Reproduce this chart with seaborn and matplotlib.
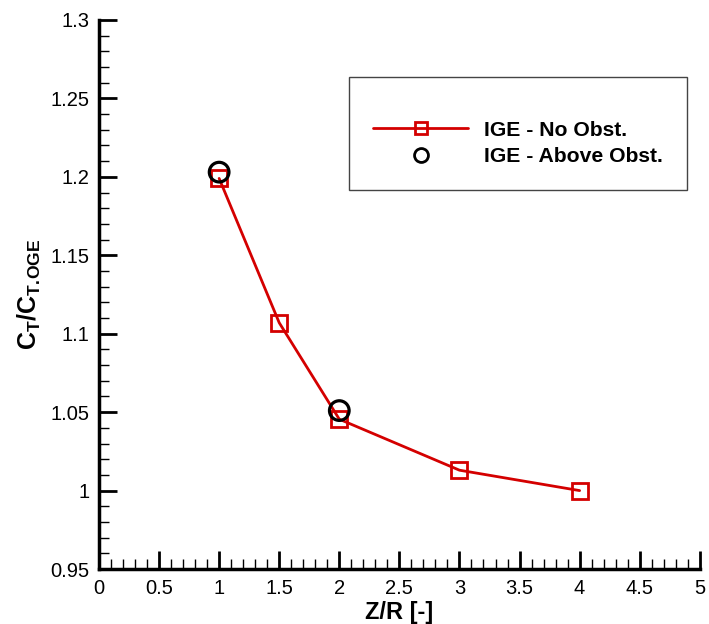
import numpy as np
import pandas as pd
import matplotlib
matplotlib.use('Agg')
import matplotlib.pyplot as plt
import seaborn as sns
from matplotlib.lines import Line2D
from matplotlib.ticker import MultipleLocator

# dados
zr_no_obst = [1.0, 1.5, 2.0, 3.0, 4.0]
ct_no_obst = [1.199, 1.107, 1.0455, 1.013, 1.0]
zr_above = [1.0, 2.0]
ct_above = [1.203, 1.051]
labels = ['IGE - No Obst.', 'IGE - Above Obst.']

df_no = pd.DataFrame({'zr': zr_no_obst, 'ct': ct_no_obst})
df_ab = pd.DataFrame({'zr': zr_above, 'ct': ct_above})

sns.set_style('ticks', {'axes.edgecolor': 'black', 'text.color': 'black',
                        'xtick.color': 'black', 'ytick.color': 'black',
                        'axes.labelcolor': 'black'})
plt.rcParams['font.family'] = ['Liberation Sans', 'DejaVu Sans']
plt.rcParams['mathtext.fontset'] = 'custom'
plt.rcParams['mathtext.rm'] = 'Liberation Sans'
plt.rcParams['mathtext.bf'] = 'Liberation Sans:bold'

red = '#d40000'

fig = plt.figure(figsize=(7.09, 6.24), dpi=100)
ax = fig.add_axes([0.1396, 0.0881, 0.8474, 0.8799])

sns.lineplot(data=df_no, x='zr', y='ct', ax=ax, color=red, linewidth=2.0,
             marker='s', markersize=11, markerfacecolor='none',
             markeredgecolor=red, markeredgewidth=2.0)
sns.scatterplot(data=df_ab, x='zr', y='ct', ax=ax, marker='o', s=200,
                facecolor='none', edgecolor='black', linewidth=2.3, zorder=5)

ax.set_xlim(0, 5)
ax.set_ylim(0.95, 1.3)
ax.xaxis.set_minor_locator(MultipleLocator(0.1))
ax.yaxis.set_minor_locator(MultipleLocator(0.01))
ax.set_xticks(np.arange(0, 5.01, 0.5))
ax.set_xticklabels(['0', '0.5', '1', '1.5', '2', '2.5', '3', '3.5', '4', '4.5', '5'])
ax.set_yticks(np.arange(0.95, 1.301, 0.05))
ax.set_yticklabels(['0.95', '1', '1.05', '1.1', '1.15', '1.2', '1.25', '1.3'])

ax.tick_params(which='major', direction='in', length=13, width=2, labelsize=14.5,
               pad=7, colors='black')
ax.tick_params(which='minor', direction='in', length=7, width=1, colors='black')
sns.despine(ax=ax)
for s in ['left', 'bottom']:
    ax.spines[s].set_linewidth(2.5)
    ax.spines[s].set_color('black')

ax.set_xlabel('Z/R [-]', fontsize=17, fontweight='bold', labelpad=2)
# \! tira o espaço que o mathtext mete depois do ponto
ax.set_ylabel(r'C$_{\mathbf{T}}$/C$_{\mathbf{T.\!OGE}}$', fontsize=18,
              fontweight='bold', labelpad=5)

handles = [
    Line2D([], [], color=red, linewidth=2.0, marker='s', markersize=9,
           markerfacecolor='none', markeredgecolor=red, markeredgewidth=2.0),
    Line2D([], [], linestyle='none', marker='o', markersize=10,
           markerfacecolor='none', markeredgecolor='black', markeredgewidth=2.0),
]
# título vazio só para dar o espaço extra em cima, como no original
leg = ax.legend(handles, labels, loc='upper left', bbox_to_anchor=(0.416, 0.896),
                frameon=True, fancybox=False, framealpha=1, edgecolor='#444444',
                prop={'size': 15.2, 'weight': 'bold'}, handlelength=4.5,
                handletextpad=0.75, labelspacing=0.35, borderpad=1.15,
                borderaxespad=0, title=' ', title_fontsize=8.5)
leg.get_frame().set_linewidth(1.0)

plt.savefig('out.png', dpi=100)
plt.close()
